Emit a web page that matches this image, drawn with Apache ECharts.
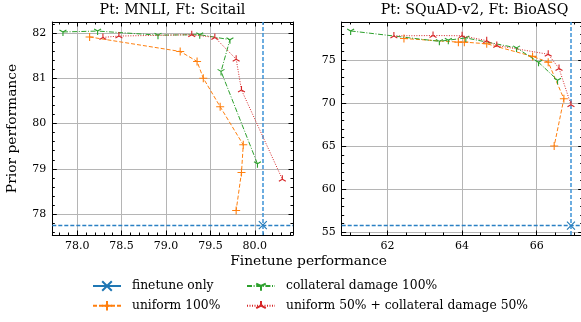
<!DOCTYPE html>
<html><head><meta charset="utf-8">
<script src="https://cdn.jsdelivr.net/npm/echarts@6/dist/echarts.min.js"></script>
<style>html,body{margin:0;padding:0;background:#fff}#c{width:581px;height:322px}</style>
</head><body><div id="c"></div>
<script>
// ---- data ----
const panelTitles = ['Pt: MNLI, Ft: Scitail', 'Pt: SQuAD-v2, Ft: BioASQ'];
const seriesNames = ['finetune only', 'uniform 100%', 'collateral damage 100%', 'uniform 50% + collateral damage 50%'];
const xAxisTitle = 'Finetune performance';
const yAxisTitle = 'Prior performance';

// Left panel: Pt MNLI, Ft Scitail  [finetune, prior]
const mnliFinetuneOnly = [[80.09, 77.76]];
const mnliUniform = [[78.14, 81.91], [79.16, 81.59], [79.35, 81.37], [79.42, 81.00], [79.61, 80.37], [79.87, 79.53], [79.85, 78.92], [79.79, 78.08]];
const mnliCollateral = [[77.84, 82.02], [78.23, 82.04], [78.91, 81.95], [79.38, 81.96], [79.72, 81.85], [79.62, 81.15], [80.03, 79.11]];
const mnliMix = [[78.29, 81.90], [78.47, 81.93], [79.29, 81.96], [79.55, 81.90], [79.79, 81.42], [79.85, 80.74], [80.31, 78.77]];

// Right panel: Pt SQuAD-v2, Ft BioASQ
const squadFinetuneOnly = [[66.92, 55.77]];
const squadUniform = [[62.44, 77.53], [63.90, 77.11], [64.06, 77.11], [64.66, 76.92], [65.89, 75.45], [66.31, 74.78], [66.73, 70.52], [66.47, 65.03]];
const squadCollateral = [[61.01, 78.41], [63.39, 77.20], [63.63, 77.34], [64.10, 77.60], [65.46, 76.44], [66.05, 74.77], [66.56, 72.69]];
const squadMix = [[62.17, 77.83], [63.22, 77.88], [64.00, 77.85], [64.66, 77.28], [64.93, 76.72], [66.31, 75.70], [66.60, 74.05], [66.92, 69.83]];

// axis ranges
const mnliX = [77.72, 80.43], mnliY = [77.54, 82.24];
const squadX = [60.77, 67.235], squadY = [54.69, 79.45];
const mnliXDecimals = 1;

// ---- style ----
const FONT = 'DejaVu Serif';
const colors = ['#1f77b4', '#ff7f0e', '#2ca02c', '#d62728'];
const symbols = [
  'path://M-1,-1L1,1M-1,1L1,-1',
  'path://M0,-1L0,1M-1,0L1,0',
  'path://M0,-1M0,0L0,1M0,0L-0.866,-0.5M0,0L0.866,-0.5',
  'path://M0,1M0,0L0,-1M0,0L-0.866,0.5M0,0L0.866,0.5'
];
const dashes = ['solid', [4, 2], [5, 1.6, 1, 1.6], [1, 1.5]];

function ax(grid, range, pos, split, minorSplit, labels, decimals) {
  return {
    type: 'value', gridIndex: grid, position: pos, min: range[0], max: range[1], splitNumber: split,
    axisLine: { show: true, onZero: false, lineStyle: { color: '#000', width: 1 } },
    axisTick: { show: true, inside: true, length: 4.5, lineStyle: { color: '#000' } },
    minorTick: { show: true, splitNumber: minorSplit, length: 2.5, lineStyle: { color: '#000' } },
    splitLine: { show: labels, lineStyle: { color: '#b5b5b5', width: 1 } },
    axisLabel: {
      show: labels, showMinLabel: false, showMaxLabel: false, color: '#000', fontFamily: FONT, fontSize: 11, margin: 6,
      formatter: v => decimals ? v.toFixed(decimals) : String(Math.round(v))
    }
  };
}

function mkSeries(name, idx, data, axisIdx, ftPoint) {
  const s = {
    name: name, type: 'line', data: data, xAxisIndex: axisIdx, yAxisIndex: axisIdx,
    symbol: symbols[idx], symbolSize: 8, symbolKeepAspect: true, showSymbol: true,
    color: colors[idx],
    lineStyle: { color: colors[idx], width: 1, type: dashes[idx] },
    itemStyle: { color: colors[idx], borderColor: colors[idx], borderWidth: 1.1 },
    emphasis: { disabled: true }, animation: false, z: 3 + idx, clip: false
  };
  if (ftPoint) {
    s.markLine = {
      silent: true, symbol: ['none', 'none'], animation: false, precision: 4,
      label: { show: false },
      emphasis: { disabled: true },
      data: [
        { xAxis: ftPoint[0], lineStyle: { color: '#3d93d6', width: 1.5, type: [4, 2], opacity: 1 } },
        { yAxis: ftPoint[1], lineStyle: { color: '#2a80c4', width: 1.3, type: [4, 2], opacity: 1 } }
      ]
    };
  }
  return s;
}

const series = [];
[[mnliFinetuneOnly, mnliUniform, mnliCollateral, mnliMix, 0],
 [squadFinetuneOnly, squadUniform, squadCollateral, squadMix, 2]].forEach(p => {
  const ai = p[4];
  for (let i = 0; i < 4; i++) series.push(mkSeries(seriesNames[i], i, p[i], ai, i === 0 ? p[0][0] : null));
});

const legendCommon = {
  orient: 'vertical', top: 280, itemWidth: 28, itemHeight: 12, itemGap: 7.7, padding: 0,
  textStyle: { color: '#000', fontFamily: FONT, fontSize: 12.3, padding: [0, 0, 0, 6] },
  selectedMode: false, inactiveColor: '#000'
};

const option = {
  backgroundColor: '#fff',
  animation: false,
  grid: [
    { left: 52.3, top: 22, width: 240.7, height: 213, outerBoundsMode: 'none', containLabel: false },
    { left: 341.7, top: 22, width: 241, height: 213, outerBoundsMode: 'none', containLabel: false }
  ],
  xAxis: [
    ax(0, mnliX, 'bottom', 5, 5, true, mnliXDecimals), ax(0, mnliX, 'top', 5, 5, false),
    ax(1, squadX, 'bottom', 3, 4, true), ax(1, squadX, 'top', 3, 4, false)
  ],
  yAxis: [
    ax(0, mnliY, 'left', 5, 5, true), ax(0, mnliY, 'right', 5, 5, false),
    ax(1, squadY, 'left', 5, 5, true), ax(1, squadY, 'right', 5, 5, false)
  ],
  legend: [
    Object.assign({}, legendCommon, { left: 92, data: [seriesNames[0], seriesNames[1]] }),
    Object.assign({}, legendCommon, { left: 246, data: [seriesNames[2], seriesNames[3]] })
  ],
  graphic: [
    { type: 'text', x: 172.5, y: 10, style: { text: panelTitles[0], font: '14.2px "' + FONT + '"', fill: '#000', textAlign: 'center', textVerticalAlign: 'middle' } },
    { type: 'text', x: 474.5, y: 10, style: { text: panelTitles[1], font: '14.2px "' + FONT + '"', fill: '#000', textAlign: 'center', textVerticalAlign: 'middle' } },
    { type: 'text', x: 308.5, y: 261, style: { text: xAxisTitle, font: '13.8px "' + FONT + '"', fill: '#000', textAlign: 'center', textVerticalAlign: 'middle' } },
    { type: 'text', x: 12, y: 128.5, rotation: Math.PI / 2, style: { text: yAxisTitle, font: '13.8px "' + FONT + '"', fill: '#000', textAlign: 'center', textVerticalAlign: 'middle' } }
  ],
  series: series
};

const chart = echarts.init(document.getElementById('c'), null, { renderer: 'canvas' });
chart.setOption(option);
</script>
</body></html>
